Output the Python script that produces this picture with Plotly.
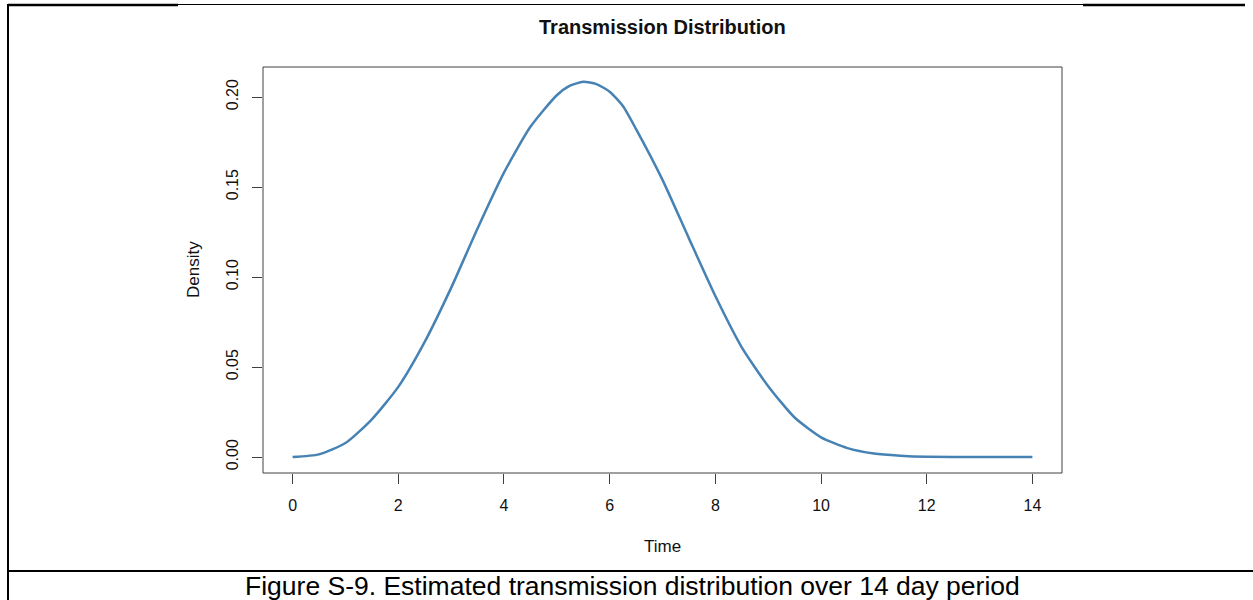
import plotly.graph_objects as go

# Data
time_vals = [0.0, 0.5, 1.0, 1.5, 2.0, 2.5, 3.0, 3.5, 4.0, 4.5, 5.0, 5.25, 5.5, 5.75, 6.0,
             6.25, 6.5, 7.0, 7.5, 8.0, 8.5, 9.0, 9.5, 10.0, 10.5, 11.0, 11.5, 12.0, 13.0, 14.0]
density_vals = [0.0, 0.0015, 0.0078, 0.021, 0.039, 0.064, 0.094, 0.127, 0.158, 0.1835,
                0.201, 0.2063, 0.2085, 0.2072, 0.2030, 0.1950, 0.1822, 0.154, 0.1215,
                0.0895, 0.061, 0.0394, 0.022, 0.011, 0.005, 0.002, 0.0008, 0.0002, 0.0, 0.0]
x_ticks = [0, 2, 4, 6, 8, 10, 12, 14]
y_ticks = [0.00, 0.05, 0.10, 0.15, 0.20]
y_tick_labels = ["0.00", "0.05", "0.10", "0.15", "0.20"]

W, H = 1253, 600


def px(x):
    return x / W


def py(y):
    return 1 - y / H


FONT = "Liberation Sans, Arial, sans-serif"
AX = "#404040"
TXT = "#111111"

fig = go.Figure()
fig.add_trace(go.Scatter(
    x=time_vals, y=density_vals, mode="lines",
    line=dict(color="#4682B4", width=2.5, shape="spline", smoothing=0.6),
    hoverinfo="skip", showlegend=False))

left, right, top, bottom = 263, 1062, 67, 473

fig.update_layout(
    width=W, height=H,
    margin=dict(l=0, r=0, t=0, b=0),
    paper_bgcolor="white", plot_bgcolor="white",
    font=dict(family=FONT, color=TXT, size=16),
    xaxis=dict(domain=[px(left), px(right)], range=[-0.56, 14.56],
               tickvals=x_ticks, ticktext=[str(v) for v in x_ticks],
               ticks="outside", ticklen=10, tickcolor=AX, tickwidth=1,
               ticklabelstandoff=8,
               showgrid=False, zeroline=False, showline=False,
               tickfont=dict(size=16, family=FONT, color=TXT)),
    yaxis=dict(domain=[py(bottom), py(top)], range=[-0.00883, 0.2167],
               tickvals=y_ticks, ticktext=y_tick_labels, tickangle=-90,
               ticks="outside", ticklen=10, tickcolor=AX, tickwidth=1,
               ticklabelstandoff=8,
               showgrid=False, zeroline=False, showline=False,
               tickfont=dict(size=16, family=FONT, color=TXT)),
)

shapes = [
    # plot box
    dict(type="rect", xref="paper", yref="paper", x0=px(left), x1=px(right),
         y0=py(bottom), y1=py(top), line=dict(color=AX, width=1)),
    # outer frame lines
    dict(type="line", xref="paper", yref="paper", x0=px(8), x1=px(8), y0=py(4), y1=py(600),
         line=dict(color="black", width=2)),
    dict(type="line", xref="paper", yref="paper", x0=px(8), x1=px(178), y0=py(5), y1=py(5),
         line=dict(color="black", width=2.5)),
    dict(type="line", xref="paper", yref="paper", x0=px(178), x1=px(1083), y0=py(4.5), y1=py(4.5),
         line=dict(color="black", width=1)),
    dict(type="line", xref="paper", yref="paper", x0=px(1083), x1=px(1245), y0=py(5), y1=py(5),
         line=dict(color="black", width=2.5)),
    dict(type="line", xref="paper", yref="paper", x0=px(8), x1=px(1253), y0=py(571), y1=py(571),
         line=dict(color="black", width=2)),
]
fig.update_layout(shapes=shapes)

annotations = [
    dict(text="<b>Transmission Distribution</b>", x=px(662), y=py(27), xref="paper", yref="paper",
         showarrow=False, font=dict(size=20, family=FONT, color=TXT),
         xanchor="center", yanchor="middle"),
    dict(text="Time", x=px(662), y=py(546), xref="paper", yref="paper",
         showarrow=False, font=dict(size=17, family=FONT, color=TXT),
         xanchor="center", yanchor="middle"),
    dict(text="Density", x=px(193), y=py(270), xref="paper", yref="paper", textangle=-90,
         showarrow=False, font=dict(size=17, family=FONT, color=TXT),
         xanchor="center", yanchor="middle"),
    dict(text="Figure S-9. Estimated transmission distribution over 14 day period",
         x=px(632), y=py(586), xref="paper", yref="paper",
         showarrow=False, font=dict(size=26.5, family=FONT, color="black"),
         xanchor="center", yanchor="middle"),
]
fig.update_layout(annotations=annotations)

fig.write_html("out.html", config={"displayModeBar": False},
               post_script="document.body.style.margin='0';")
